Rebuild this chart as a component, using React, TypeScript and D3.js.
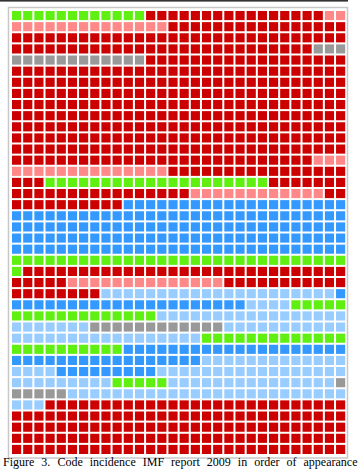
import React, { useEffect, useRef } from "react";
import * as d3 from "d3";

// Codes in order of appearance (run-length encoded)
const runCodes = [
  "green", "red", "pink", "red", "grey", "red", "pink", "red", "green", "red",
  "pink", "red", "blue", "green", "red", "pink", "red", "lightblue", "blue", "lightblue",
  "green", "lightblue", "grey", "lightblue", "green", "blue", "lightblue", "blue", "lightblue", "green",
  "lightblue", "grey", "lightblue", "red",
];
const runCounts = [
  12, 16, 16, 73, 15, 285, 17, 19, 20, 23,
  12, 12, 140, 31, 34, 14, 19, 21, 22, 4,
  18, 24, 12, 28, 23, 37, 17, 9, 26, 5,
  15, 6, 28, 147,
];
const categories = ["red", "pink", "green", "grey", "blue", "lightblue"];
const categoryColors = ["#cc0000", "#ff8888", "#5ff012", "#999999", "#3399ff", "#99ccff"];
const nCols = 30;
const nRows = 40;
const caption = "Figure 3. Code incidence IMF report 2009 in order of appearance";

const W = 361;
const H = 469;

export default function App() {
  const ref = useRef<SVGSVGElement>(null);

  useEffect(() => {
    const svg = d3.select(ref.current);
    svg.selectAll("*").remove();

    const color = d3.scaleOrdinal<string, string>().domain(categories).range(categoryColors);
    const x = d3.scaleBand<number>().domain(d3.range(nCols)).range([12, 345.2]).paddingInner(0.18).paddingOuter(0);
    const y = d3.scaleBand<number>().domain(d3.range(nRows)).range([11, 454]).paddingInner(0.18).paddingOuter(0);

    const cells: string[] = [];
    runCodes.forEach((c, i) => {
      for (let k = 0; k < runCounts[i]; k++) cells.push(c);
    });

    svg.append("rect").attr("x", 0).attr("y", 0).attr("width", W).attr("height", H).attr("fill", "#fff");
    // top dark line
    svg.append("rect").attr("x", 0).attr("y", 0).attr("width", 348).attr("height", 1.6).attr("fill", "#333");
    // frame
    svg.append("rect")
      .attr("x", 8.5).attr("y", 7.5).attr("width", 339).attr("height", 450.5)
      .attr("fill", "#fff").attr("stroke", "#c8c8c8").attr("stroke-width", 1.5);

    svg.append("g")
      .selectAll("rect")
      .data(cells)
      .join("rect")
      .attr("x", (_d, i) => x(i % nCols)!)
      .attr("y", (_d, i) => y(Math.floor(i / nCols))!)
      .attr("width", x.bandwidth())
      .attr("height", y.bandwidth())
      .attr("fill", (d) => color(d));

    // justified caption
    const words = caption.split(" ");
    const g = svg.append("g")
      .attr("font-family", "'Liberation Serif', 'Times New Roman', serif")
      .attr("font-size", 12)
      .attr("fill", "#000");
    const texts = words.map((w) => g.append("text").attr("y", 466.2).text(w));
    const widths = texts.map((t) => (t.node() as SVGTextElement).getComputedTextLength());
    const left = 3;
    const right = 357.5;
    const total = d3.sum(widths);
    const gap = (right - left - total) / (words.length - 1);
    let cx = left;
    texts.forEach((t, i) => {
      t.attr("x", cx);
      cx += widths[i] + gap;
    });
  }, []);

  return (
    <svg
      ref={ref}
      width={W}
      height={H}
      style={{ position: "absolute", left: 0, top: 0, display: "block" }}
    />
  );
}
